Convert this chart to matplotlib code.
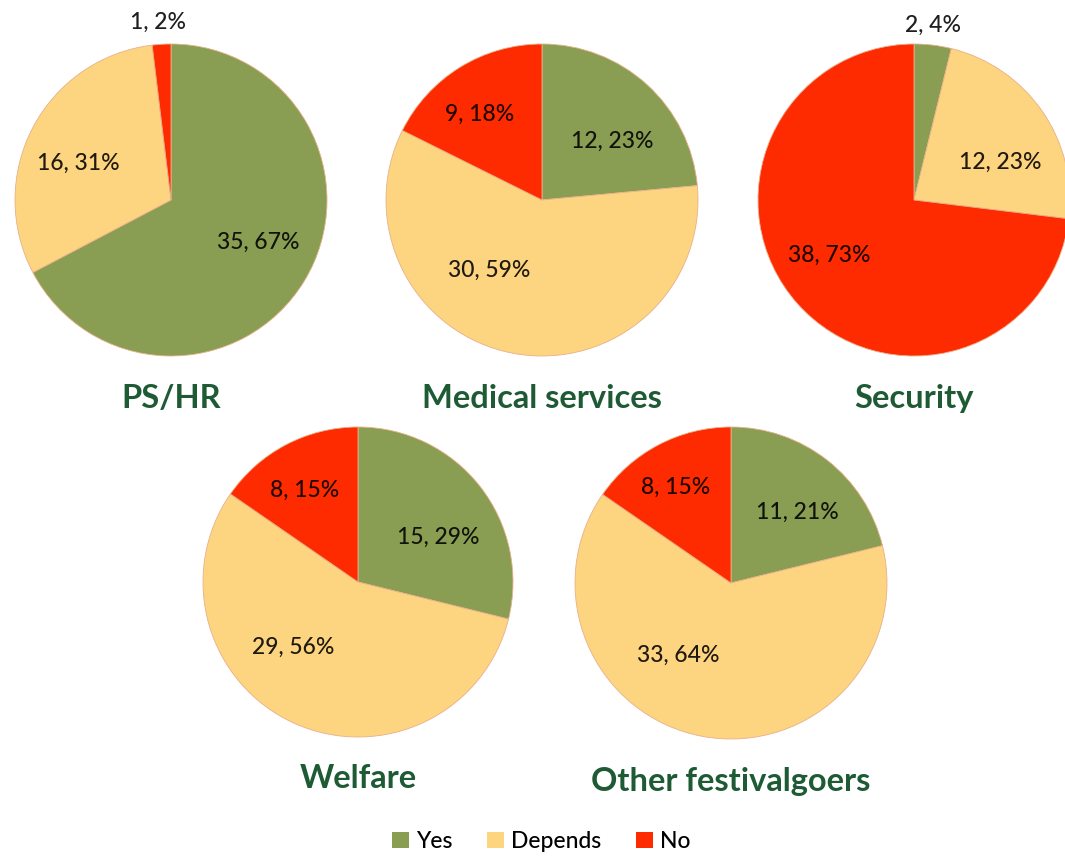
import matplotlib.pyplot as plt
from matplotlib.patches import Patch

plt.rcParams["font.family"] = ["Lato", "DejaVu Sans"]

# data
GROUPS = ["PS/HR", "Medical services", "Security", "Welfare", "Other festivalgoers"]
ANSWERS = ["Yes", "Depends", "No"]
YES = [35, 12, 2, 15, 11]
DEPENDS = [16, 30, 12, 29, 33]
NO = [1, 9, 38, 8, 8]
PCT_YES = [67, 23, 4, 29, 21]
PCT_DEPENDS = [31, 59, 23, 56, 64]
PCT_NO = [2, 18, 73, 15, 15]

GREEN = "#8A9E53"
YELLOW = "#FDD47F"
RED = "#FF2B00"
TITLE = "#1E5B35"

W, H = 1065, 856
# pie centres / radius in figure pixels (y up)
CENTRES = [(171, 656), (542, 656), (914, 656), (358, 274), (731, 273)]
RADIUS = [156, 156, 156, 155, 156]
# label offsets from centre (pixels), order Yes, Depends, No
LABEL_OFF = [
    [(87, -42), (-93, 37), (-13, 178)],
    [(70, 59), (-53, -70), (-62, 86)],
    [(19, 175), (86, 38), (-85, -55)],
    [(80, 45), (-65, -65), (-53, 92)],
    [(66, 71), (-53, -72), (-55, 96)],
]

fig = plt.figure(figsize=(W / 100, H / 100), dpi=100)
ax = fig.add_axes([0, 0, 1, 1])

for i, name in enumerate(GROUPS):
    cx, cy = CENTRES[i]
    r = RADIUS[i]
    counts = [YES[i], DEPENDS[i], NO[i]]
    pcts = [PCT_YES[i], PCT_DEPENDS[i], PCT_NO[i]]
    ax.pie(counts, colors=[GREEN, YELLOW, RED], startangle=90, counterclock=False,
           center=(cx, cy), radius=r, frame=True,
           wedgeprops={"linewidth": 0.6, "edgecolor": "#e8b08a"})
    for (dx, dy), n, p in zip(LABEL_OFF[i], counts, pcts):
        ax.text(cx + dx, cy + dy, f"{n}, {p}%", ha="center", va="center",
                fontsize=16.5, fontweight="medium", color="black", alpha=0.88)
    ax.text(cx, cy - r - 42, name, ha="center", va="center", fontsize=23.5,
            fontweight="bold", color=TITLE)

ax.set_xlim(0, W)
ax.set_ylim(0, H)
ax.set_aspect("equal")
ax.axis("off")

handles = [Patch(facecolor=c, edgecolor="none") for c in (GREEN, YELLOW, RED)]
fig.legend(handles, ANSWERS, loc="center", bbox_to_anchor=(0.508, 0.017),
           ncol=3, frameon=False, prop={"size": 16.5, "weight": "medium"},
           handlelength=0.75, handleheight=0.75,
           handletextpad=0.3, columnspacing=1.5)

fig.savefig("out.png", dpi=100, facecolor="white")
